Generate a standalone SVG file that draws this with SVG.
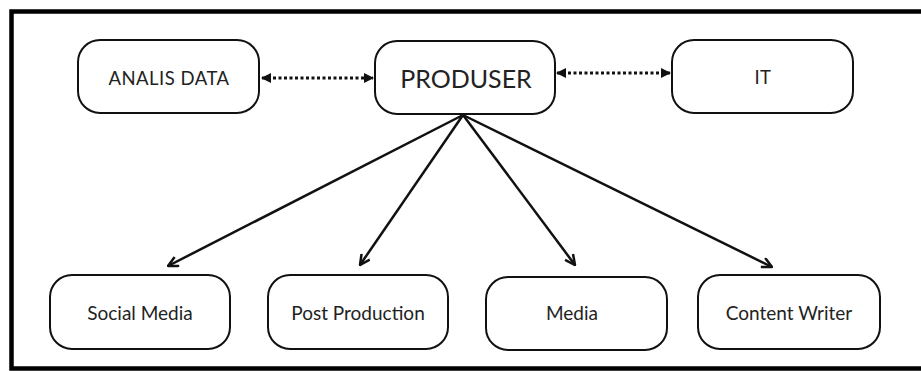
<svg xmlns="http://www.w3.org/2000/svg" width="921" height="371" viewBox="0 0 921 371">
<defs>
<style>
.node rect{fill:#fff;stroke:#111;stroke-width:2}
.node text{font-family:Lato,"Open Sans",sans-serif;fill:#222;text-anchor:middle;dominant-baseline:central}
.lbl{font-size:19px}
.caps{font-size:18.5px;letter-spacing:0.5px}
.big{font-size:25px}
.dot{stroke:#111;stroke-width:3;stroke-dasharray:3 2.5;fill:none}
.solid{stroke:#111;stroke-width:2.5;fill:none}
</style>
<marker id="tri" viewBox="0 0 10 10" refX="9" refY="5" markerWidth="10" markerHeight="10" markerUnits="userSpaceOnUse" orient="auto-start-reverse">
<path d="M0,0 L10,5 L0,10 Z" fill="#111"/>
</marker>
<marker id="chev" viewBox="0 0 12 12" refX="11" refY="6" markerWidth="12" markerHeight="12" markerUnits="userSpaceOnUse" orient="auto">
<path d="M1,1 L11,6 L1,11" fill="none" stroke="#111" stroke-width="2.5" stroke-linejoin="miter"/>
</marker>
</defs>
<rect x="0" y="0" width="921" height="371" fill="#fff"/>
<rect x="11.5" y="11.5" width="920" height="357" fill="none" stroke="#000" stroke-width="4.5"/>
<g id="connectors">
<line class="dot" x1="262" y1="78" x2="373" y2="78" marker-start="url(#tri)" marker-end="url(#tri)"/>
<line class="dot" x1="557" y1="73" x2="670" y2="73" marker-start="url(#tri)" marker-end="url(#tri)"/>
<line class="solid" x1="463" y1="115" x2="168" y2="266" marker-end="url(#chev)"/>
<line class="solid" x1="463" y1="115" x2="360" y2="265" marker-end="url(#chev)"/>
<line class="solid" x1="463" y1="115" x2="575" y2="265" marker-end="url(#chev)"/>
<line class="solid" x1="463" y1="115" x2="772" y2="267" marker-end="url(#chev)"/>
</g>
<g id="analis-data" class="node"><rect x="78" y="40" width="181" height="73" rx="22"/><text class="caps" x="169" y="78">ANALIS DATA</text></g>
<g id="produser" class="node"><rect x="375" y="41" width="180" height="73" rx="22"/><text class="big" x="466" y="78">PRODUSER</text></g>
<g id="it" class="node"><rect x="672" y="40" width="181" height="73" rx="22"/><text class="caps" x="763" y="77">IT</text></g>
<g id="social-media" class="node"><rect x="50" y="275" width="180" height="74" rx="22"/><text class="lbl" x="140" y="312">Social Media</text></g>
<g id="post-production" class="node"><rect x="268" y="275" width="180" height="74" rx="22"/><text class="lbl" x="358" y="312">Post Production</text></g>
<g id="media" class="node"><rect x="486" y="277" width="181" height="73" rx="22"/><text class="lbl" x="572" y="312">Media</text></g>
<g id="content-writer" class="node"><rect x="698" y="275" width="182" height="74" rx="22"/><text class="lbl" x="789" y="312">Content Writer</text></g>
</svg>
